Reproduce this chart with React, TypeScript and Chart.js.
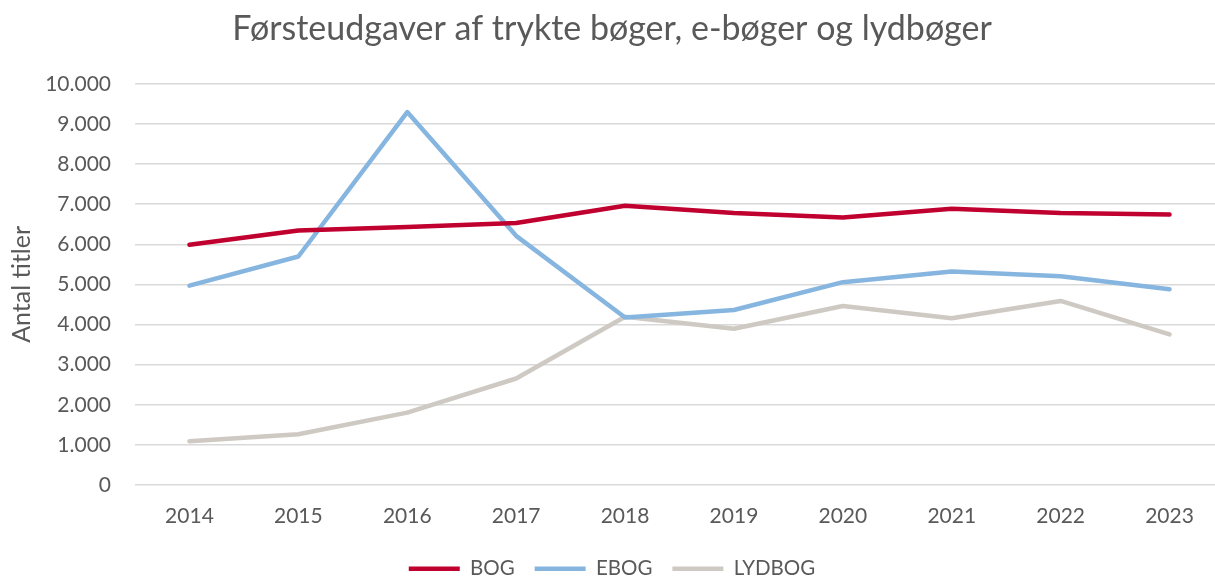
import React, { useEffect, useRef } from "react";
import { Chart, registerables } from "chart.js";

Chart.register(...registerables);

const years = ["2014", "2015", "2016", "2017", "2018", "2019", "2020", "2021", "2022", "2023"];
const bog = [5990, 6345, 6430, 6530, 6960, 6780, 6670, 6888, 6780, 6745];
const ebog = [4970, 5695, 9295, 6210, 4175, 4362, 5055, 5320, 5205, 4880];
const lydbog = [1088, 1263, 1805, 2655, 4195, 3895, 4462, 4155, 4587, 3755];

const titleText = "Førsteudgaver af trykte bøger, e-bøger og lydbøger";
const yTitle = "Antal titler";

const FONT = "Lato, 'Open Sans', sans-serif";
const TEXT = "#595959";

function fmt(v: number): string {
  return String(Math.round(v)).replace(/\B(?=(\d{3})+(?!\d))/g, ".");
}

export default function App() {
  const ref = useRef<HTMLCanvasElement | null>(null);
  useEffect(() => {
    document.body.style.margin = "0";
    const ctx = ref.current!;
    const mk = (label: string, data: number[], color: string) => ({
      label,
      data,
      borderColor: color,
      backgroundColor: color,
      borderWidth: 4.5,
      borderCapStyle: "round" as const,
      borderJoinStyle: "round" as const,
      pointRadius: 0,
      pointHoverRadius: 0,
      tension: 0,
    });
    const chart = new Chart(ctx, {
      type: "line",
      data: {
        labels: years,
        datasets: [
          mk("BOG", bog, "#C0002E"),
          mk("EBOG", ebog, "#86B6E0"),
          mk("LYDBOG", lydbog, "#CECAC3"),
        ],
      },
      options: {
        responsive: false,
        animation: false,
        layout: { padding: { left: 0, right: 1, top: 0, bottom: -10 } },
        plugins: {
          title: {
            display: true,
            text: titleText,
            color: TEXT,
            font: { family: FONT, size: 34, weight: "normal" },
            padding: { top: 9, bottom: 34 },
          },
          legend: {
            position: "bottom",
            labels: {
              usePointStyle: true,
              pointStyle: "line",
              pointStyleWidth: 51,
              color: TEXT,
              font: { family: FONT, size: 20.5 },
              padding: 20,
            },
          },
          tooltip: { enabled: false },
        },
        scales: {
          x: {
            offset: true,
            afterFit: (s: any) => { s.height = 53.5; },
            grid: { display: false, drawTicks: false },
            border: { display: false },
            ticks: { color: TEXT, font: { family: FONT, size: 21 }, padding: 18.5, maxRotation: 0 },
          },
          y: {
            min: 0,
            max: 10000,
            afterFit: (s: any) => { s.width = 135; },
            grid: { color: "#D9D9D9", lineWidth: 1.5, drawTicks: false },
            border: { display: false },
            ticks: {
              stepSize: 1000,
              color: TEXT,
              font: { family: FONT, size: 21 },
              padding: 24,
              callback: (v: any) => fmt(Number(v)),
            },
            title: {
              display: true,
              text: yTitle,
              color: TEXT,
              font: { family: FONT, size: 25 },
              padding: { top: 7, bottom: 0 },
            },
          },
        },
      },
    });
    return () => chart.destroy();
  }, []);
  return (
    <div style={{ position: "absolute", left: 0, top: 0, width: 1215, height: 579, overflow: "hidden", background: "#fff" }}>
      <canvas ref={ref} width={1225} height={579} />
    </div>
  );
}
